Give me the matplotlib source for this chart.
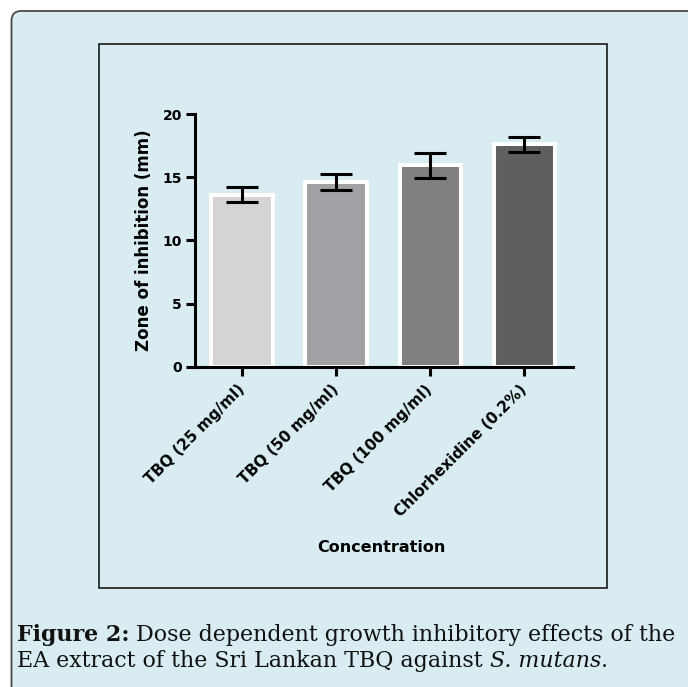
import matplotlib
matplotlib.use('Agg')
import matplotlib.pyplot as plt
from matplotlib.patches import FancyBboxPatch, Rectangle

# ---------------- data ----------------
categories = ['TBQ (25 mg/ml)', 'TBQ (50 mg/ml)', 'TBQ (100 mg/ml)', 'Chlorhexidine (0.2%)']
means = [13.63, 14.63, 15.95, 17.60]
errors = [0.58, 0.60, 1.00, 0.58]
bar_colors = ['#d4d4d4', '#a2a2a6', '#808080', '#5f5f5f']
yticks = [0, 5, 10, 15, 20]
y_label = 'Zone of inhibition (mm)'
x_label = 'Concentration'
caption_line1 = [('Figure 2:', 'bold', 'normal'),
                 ('Dose dependent growth inhibitory effects of the', 'normal', 'normal')]
caption_line2 = [('EA extract of the Sri Lankan TBQ against', 'normal', 'normal'),
                 ('S. mutans', 'normal', 'italic')]
caption_tail = '.'

W, H = 688, 687
fig = plt.figure(figsize=(W / 100, H / 100), dpi=100, facecolor='white')

bg = '#d8ecf1'
outer = FancyBboxPatch((11.5 / W, -0.1), 1.2, 1 - 11 / H + 0.1,
                       boxstyle='round,pad=0,rounding_size=0.014',
                       transform=fig.transFigure, facecolor=bg,
                       edgecolor='#4a4a4a', linewidth=1.3, zorder=-10)
fig.patches.append(outer)
inner = Rectangle((98.5 / W, 1 - 588 / H), (607 - 98.5) / W, (588 - 44) / H,
                  transform=fig.transFigure, facecolor='none',
                  edgecolor='#1a1a1a', linewidth=1.2, zorder=-5)
fig.patches.append(inner)

ax = fig.add_axes([195 / W, 1 - 367 / H, (573 - 195) / W, (367 - 114) / H])
ax.set_facecolor('none')
xpos = list(range(len(categories)))
ax.bar(xpos, means, width=0.65, color=bar_colors, edgecolor='white',
       linewidth=2.9, zorder=2)
ax.errorbar(xpos, means, yerr=errors, fmt='none', ecolor='black',
            elinewidth=2.2, capsize=11.5, capthick=2.2, zorder=3)
ax.set_xlim(-0.5, 3.52)
ax.set_ylim(0, 20)
for s in ['top', 'right']:
    ax.spines[s].set_visible(False)
for s in ['left', 'bottom']:
    ax.spines[s].set_linewidth(2.2)
    ax.spines[s].set_zorder(4)
    ax.spines[s].set_capstyle('projecting')
ax.set_yticks(yticks)
ax.set_yticklabels([str(v) for v in yticks], fontsize=10, fontweight='bold',
                   family='DejaVu Sans')
ax.set_xticks(xpos)
ax.set_xticklabels(categories, rotation=45, ha='right', va='center',
                   rotation_mode='anchor', fontsize=11, fontweight='bold',
                   family='DejaVu Sans')
ax.tick_params(axis='both', width=2.2, length=6.5, color='black')
ax.tick_params(axis='y', pad=3)
ax.tick_params(axis='x', pad=8)

ax.set_ylabel(y_label, fontsize=12, fontweight='bold', family='DejaVu Sans')
ax.yaxis.label.set_va('center')
ax.yaxis.set_label_coords((144 - 195) / (573 - 195), 0.5)
ax.set_xlabel(x_label, fontsize=11.5, fontweight='bold', family='DejaVu Sans')
ax.xaxis.label.set_va('center')
ax.xaxis.set_label_coords((381 - 195) / (573 - 195), (367 - 548) / (367 - 114))

# ---------------- caption ----------------
fig.canvas.draw()
renderer = fig.canvas.get_renderer()
cap_family = 'DejaVu Serif'


def text_w(s, size, weight='normal', style='normal'):
    t = fig.text(0, 0, s, fontsize=size, family=cap_family, fontweight=weight,
                 fontstyle=style)
    w = t.get_window_extent(renderer).width
    t.remove()
    return w


def line_width(pieces, size, tail=''):
    sp = text_w('n n', size) - text_w('nn', size)
    w = sum(text_w(p[0], size, p[1], p[2]) for p in pieces) + sp * (len(pieces) - 1)
    if tail:
        w += text_w(tail, size)
    return w


base = 14.0
target = 661.0
size = base * target / line_width(caption_line1, base)
x_start = 17.0


def draw_line(pieces, y_px, tail=''):
    sp = text_w('n n', size) - text_w('nn', size)
    x = x_start
    for i, (s, wgt, sty) in enumerate(pieces):
        t = fig.text(x / W, 1 - y_px / H, s, fontsize=size, family=cap_family,
                     fontweight=wgt, fontstyle=sty, va='baseline', ha='left',
                     color='#111111')
        x += t.get_window_extent(renderer).width
        if i < len(pieces) - 1:
            x += sp
    if tail:
        fig.text(x / W, 1 - y_px / H, tail, fontsize=size, family=cap_family,
                 va='baseline', ha='left', color='#111111')


draw_line(caption_line1, 641)
draw_line(caption_line2, 667, caption_tail)

fig.savefig('out.png', dpi=100, facecolor='white')
